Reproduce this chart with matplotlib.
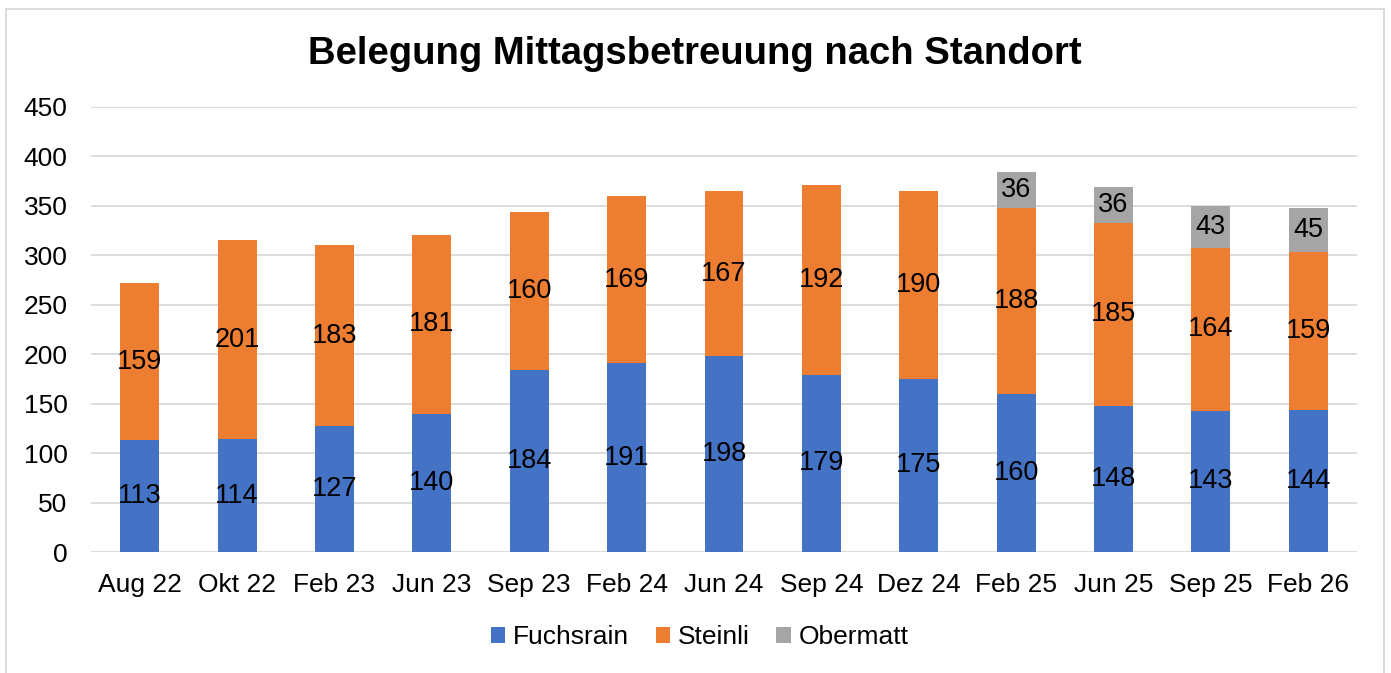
import numpy as np
import matplotlib.pyplot as plt
from matplotlib.patches import Rectangle

plt.rcParams['font.family'] = ['Liberation Sans', 'DejaVu Sans']

# data
months = ['Aug 22', 'Okt 22', 'Feb 23', 'Jun 23', 'Sep 23', 'Feb 24', 'Jun 24',
          'Sep 24', 'Dez 24', 'Feb 25', 'Jun 25', 'Sep 25', 'Feb 26']
fuchsrain = [113, 114, 127, 140, 184, 191, 198, 179, 175, 160, 148, 143, 144]
steinli = [159, 201, 183, 181, 160, 169, 167, 192, 190, 188, 185, 164, 159]
obermatt = [0, 0, 0, 0, 0, 0, 0, 0, 0, 36, 36, 43, 45]

colors = {'Fuchsrain': '#4472c4', 'Steinli': '#ed7d31', 'Obermatt': '#a5a5a5'}

fig = plt.figure(figsize=(13.91, 6.73), dpi=100)
ax = fig.add_axes([91/1391, 1 - 552/673, (1357-91)/1391, (552-107)/673])

x = np.arange(len(months))
w = 0.40
f = np.array(fuchsrain)
s = np.array(steinli)
o = np.array(obermatt)

b1 = ax.bar(x, f, w, color=colors['Fuchsrain'], label='Fuchsrain', zorder=3)
b2 = ax.bar(x, s, w, bottom=f, color=colors['Steinli'], label='Steinli', zorder=3)
b3 = ax.bar(x, o, w, bottom=f + s, color=colors['Obermatt'], label='Obermatt', zorder=3)

fs = 19.5
for i in range(len(months)):
    ax.text(x[i], f[i] / 2, str(f[i]), ha='center', va='center', fontsize=fs, zorder=4)
    ax.text(x[i], f[i] + s[i] / 2, str(s[i]), ha='center', va='center', fontsize=fs, zorder=4)
    if o[i] > 0:
        ax.text(x[i], f[i] + s[i] + o[i] / 2, str(o[i]), ha='center', va='center', fontsize=fs, zorder=4)

ax.set_xlim(-0.5, len(months) - 0.5)
ax.set_ylim(0, 450)
ax.set_yticks(np.arange(0, 451, 50))
ax.set_xticks(x)
ax.set_xticklabels(months)
ax.tick_params(axis='both', length=0, labelsize=19)
ax.tick_params(axis='x', pad=15)
ax.tick_params(axis='y', pad=17)
ax.yaxis.grid(True, color='#d9d9d9', linewidth=1.3, zorder=0)
for sp in ax.spines.values():
    sp.set_visible(False)

fig.text(0.4995, 1 - 54/673, 'Belegung Mittagsbetreuung nach Standort', ha='center', va='center',
         fontsize=27.5, fontweight='bold')

leg = fig.legend(handles=[b1, b2, b3], loc='center', bbox_to_anchor=(0.503, 1 - 637/673), ncol=3,
                 frameon=False, fontsize=19, handlelength=0.55, handleheight=0.55,
                 handletextpad=0.3, columnspacing=1.0)

fig.patches.append(Rectangle((6/1391, -0.05), (1384-6)/1391, 1.05 - 9/673, transform=fig.transFigure,
                             fill=False, edgecolor='#d9d9d9', linewidth=1.3))

plt.savefig('out.png', dpi=100)
